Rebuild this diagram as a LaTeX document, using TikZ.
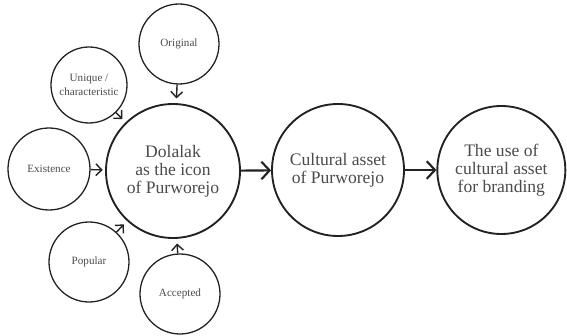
\documentclass[tikz,border=0pt]{standalone}
\usepackage{fontspec}
\setmainfont{Liberation Serif}
\usetikzlibrary{arrows.meta}
\definecolor{TextGrey}{HTML}{4A4A4A}
\definecolor{LineGrey}{HTML}{222222}

\begin{document}
\begin{tikzpicture}[
  bigcircle/.style={draw=LineGrey, circle, line width=1.6pt, inner sep=0pt,
                    align=center, text=TextGrey,
                    font=\fontsize{15}{15.5}\selectfont},
  smallcircle/.style={draw=LineGrey, circle, line width=1.1pt, inner sep=0pt,
                      align=center, text=TextGrey,
                      font=\fontsize{9.5}{12}\selectfont},
  arrow/.style={-{Straight Barb[length=7pt, width=15pt]}, line width=1.8pt,
                draw=LineGrey},
  smallarrow/.style={-{Straight Barb[length=5pt, width=10pt]}, line width=1.2pt,
                     draw=LineGrey, shorten >=4pt}
]
  \useasboundingbox (0,0) rectangle (17.01,10.08);

  % main chain
  \node[bigcircle, minimum size=4.02cm] (icon)   at (5.19, 4.95)
    {Dolalak\\as the icon\\of Purworejo};
  \node[bigcircle, minimum size=3.96cm] (asset)  at (10.14, 4.98)
    {Cultural asset\\of Purworejo};
  \node[bigcircle, minimum size=3.84cm] (brand)  at (15.04, 4.98)
    {The use of\\cultural asset\\for branding};
  \draw[arrow] (icon) -- (asset);
  \draw[arrow] (asset) -- (brand);

  % attributes of the icon
  \node[smallcircle, minimum size=2.40cm] (original)  at (5.37, 8.76) {Original};
  \node[smallcircle, minimum size=2.28cm] (unique)    at (2.67, 7.53)
    {Unique /\\characteristic};
  \node[smallcircle, minimum size=2.46cm] (existence) at (1.47, 5.01) {Existence};
  \node[smallcircle, minimum size=2.40cm] (popular)   at (2.67, 2.22) {Popular};
  \node[smallcircle, minimum size=2.40cm] (accepted)  at (5.40, 1.26) {Accepted};
  \draw[smallarrow] (original) -- (icon);
  \draw[smallarrow] (unique) -- (icon);
  \draw[smallarrow, shorten >=2pt] (existence) -- (icon);
  \draw[smallarrow] (popular) -- (icon);
  \draw[smallarrow] (accepted) -- (icon);
\end{tikzpicture}
\end{document}
